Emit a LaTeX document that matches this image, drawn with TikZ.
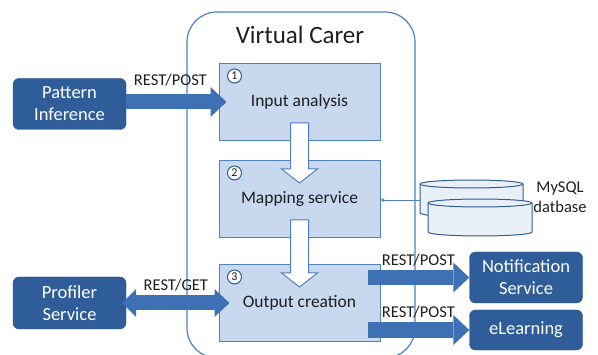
\documentclass[tikz,border=0pt]{standalone}
\usepackage{fontspec}
\setmainfont{Carlito}
\usetikzlibrary{arrows.meta,calc}

\definecolor{azuloscuro}{HTML}{2E5D99}
\definecolor{azulcaja}{HTML}{C7D8EF}
\definecolor{azulborde}{HTML}{4F81BD}
\definecolor{azulflecha}{HTML}{3E71B4}
\definecolor{azuldisco}{HTML}{EAF0F8}
\definecolor{texto}{HTML}{1F1F1F}

\tikzset{
  paso/.style={draw=azulborde, line width=1pt, fill=azulcaja, minimum width=161pt,
    minimum height=77pt, text=texto, font=\fontsize{17.5}{20}\selectfont},
  servicio/.style={fill=azuloscuro, draw=azuloscuro!85!black, rounded corners=6pt,
    text=white, align=center, minimum width=113pt, font=\fontsize{18.5}{22}\selectfont},
  numero/.style={circle, draw=azuloscuro, fill=white, line width=1pt, inner sep=0pt,
    minimum size=14pt, text=texto, font=\fontsize{12}{12}\selectfont},
  etiqueta/.style={inner sep=1pt, text=texto, font=\fontsize{16.5}{18}\selectfont},
  flecha/.style={line width=15pt, draw=azulflecha,
    -{Triangle[length=16pt, width=30pt, line width=0pt]}},
  hueca/.style={draw=azulborde, fill=white, line width=1pt},
  disco/.style={draw=azuloscuro, fill=azuldisco, line width=1pt},
  enlace/.style={draw=azulborde, line width=0.8pt, -{Stealth[length=4pt, width=4pt]}},
}

\begin{document}
\begin{tikzpicture}[x=1pt, y=1pt]
        % Marco de la imagen
        \useasboundingbox (0,0) rectangle (598,354);
        \clip (0,0) rectangle (598,354);

        % Contenedor principal
        \draw[draw=azulborde, line width=1.2pt, rounded corners=30pt] (187,-4) rectangle (415,342);
        \node[text=texto, font=\fontsize{25}{28}\selectfont] (titulo) at (300,319) {Virtual Carer};

        % Pasos internos
        \node[paso] (entrada) at (299.5,252) {Input analysis};
        \node[paso] (mapeo)   at (299.5,155) {Mapping service};
        \node[paso] (salida)  at (299.5,51)  {Output creation};

        % Numeros de paso
        \foreach \caja/\n in {entrada/1, mapeo/2, salida/3}
            \node[numero] (num\n) at ([shift={(16,-13)}]\caja.north west) {\n};

        % Flechas huecas entre pasos
        \foreach \a/\b in {entrada/mapeo, mapeo/salida}
            \draw[hueca] ($(\a.south)+(-9,18)$) -- ($(\b.north)+(-9,-9)$)
                -- ($(\b.north)+(-18,-9)$) -- ($(\b.north)+(0,-23)$)
                -- ($(\b.north)+(18,-9)$) -- ($(\b.north)+(9,-9)$)
                -- ($(\a.south)+(9,18)$) -- cycle;

        % Servicios externos
        \node[servicio, minimum height=51pt] (patron) at (69.5,250)  {Pattern\\Inference};
        \node[servicio, minimum height=52pt] (perfil) at (69.5,51)   {Profiler\\Service};
        \node[servicio, minimum height=51pt] (notif)  at (526,76.5)  {Notification\\Service};
        \node[servicio, minimum height=40pt] (elearn) at (526,24)    {eLearning};

        % Llamadas REST
        \draw[flecha] (patron.east |- entrada) -- ([xshift=8pt]entrada.west)
            node[etiqueta, midway, above=7pt, xshift=-6pt] {REST/POST};
        \draw[flecha, {Triangle[length=14pt, width=28pt, line width=0pt]}-{Triangle[length=15pt, width=28pt, line width=0pt]}]
            ([xshift=-4pt]perfil.east) -- ([xshift=11pt]salida.west)
            node[etiqueta, midway, above=3pt] {REST/GET};
        \draw[flecha] ($(salida.east |- notif)+(-13,0)$) -- (notif.west)
            node[etiqueta, midway, above=3pt] {REST/POST};
        \draw[flecha] ($(salida.east |- elearn)+(-13,0)$) -- (elearn.west)
            node[etiqueta, midway, above=3pt] {REST/POST};

        % Base de datos
        \foreach \xa/\xb/\ya/\yb in {420/523/170/141, 428/532/151/122} {
            \pgfmathsetmacro\rx{(\xb-\xa)/2}
            \draw[disco] (\xa,\ya) -- (\xa,\yb)
                arc[start angle=180, end angle=360, x radius=\rx, y radius=4]
                -- (\xb,\ya) arc[start angle=0, end angle=180, x radius=\rx, y radius=4] -- cycle;
            \draw[draw=azuloscuro, line width=1pt] (\xa,\ya)
                arc[start angle=180, end angle=360, x radius=\rx, y radius=4];
        }
        \coordinate (bd) at (420,154);
        \node[align=center, text=texto, font=\fontsize{16.5}{20}\selectfont] (mysql) at (560,157) {MySQL\\datbase};
        \draw[enlace] (bd) -- (mapeo.east |- bd);
    \end{tikzpicture}
\end{document}
